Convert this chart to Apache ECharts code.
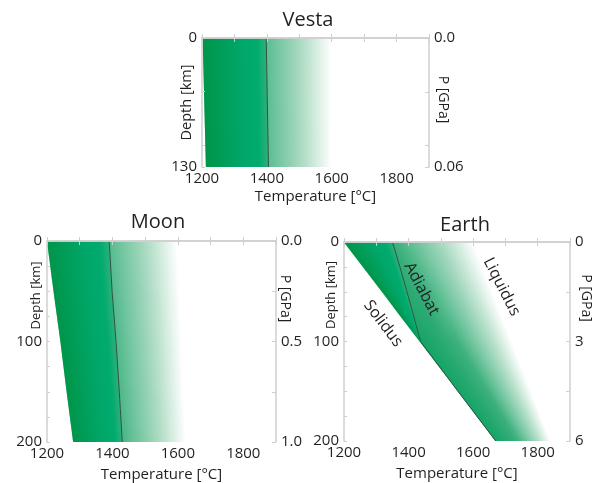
<!DOCTYPE html>
<html><head><meta charset="utf-8">
<script src="https://cdn.jsdelivr.net/npm/echarts@6/dist/echarts.min.js"></script>
<style>html,body{margin:0;padding:0;background:#fff}#c{width:594px;height:483px}</style>
</head><body><div id="c"></div>
<script>
// ---------- data ----------
const tempTicks = [1200, 1400, 1600, 1800];
const tempMinorTicks = [1200, 1300, 1400, 1500, 1600, 1700, 1800, 1900];
const tempMin = 1200, tempMax = 1900;

const vestaDepth    = [0, 130];
const vestaSolidus  = [1202, 1212];
const vestaAdiabat  = [1398, 1405];
const vestaLiquidus = [1600, 1600];
const vestaDepthLabels = [0, 130];
const vestaDepthTicks = [0, 54, 108, 130];
const vestaPressureMax = 0.06;
const vestaPressureLabels = ['0.0', '0.06'];
const vestaPressureLabelValues = [0, 0.06];
const vestaPressureTicks = [0, 0.025, 0.05, 0.06];

const moonDepth    = [0, 50, 100, 150, 200];
const moonSolidus  = [1200, 1220, 1241, 1260, 1280];
const moonAdiabat  = [1390, 1399, 1411, 1421, 1430];
const moonLiquidus = [1597, 1605, 1612, 1618, 1625];
const moonDepthLabels = [0, 100, 200];
const moonDepthTicks = [0, 25, 50, 75, 100, 125, 150, 175, 200];
const moonPressureMax = 1.0;
const moonPressureLabels = ['0.0', '0.5', '1.0'];
const moonPressureLabelValues = [0, 0.5, 1.0];
const moonPressureTicks = [0, 0.25, 0.5, 0.75, 1.0];

const earthDepth    = [0, 25, 50, 75, 100, 150, 200];
const earthSolidus  = [1200, 1259, 1318, 1376, 1435, 1553, 1670];
const earthAdiabat  = [1350, 1373, 1395, 1416, 1437, 1553, 1670];
const earthLiquidus = [1600, 1630, 1660, 1690, 1720, 1780, 1840];
const earthDepthLabels = [0, 100, 200];
const earthDepthTicks = [0, 25, 50, 75, 100, 125, 150, 175, 200];
const earthPressureMax = 6;
const earthPressureLabels = ['0', '3', '6'];
const earthPressureLabelValues = [0, 3, 6];
const earthPressureTicks = [0, 1.5, 3, 4.5, 6];

const earthCurveNames = ['Solidus', 'Adiabat', 'Liquidus'];
const earthCurveLabelTemp  = [1321, 1440, 1688];
const earthCurveLabelDepth = [82, 47, 45];

const panelTitles = ['Vesta', 'Moon', 'Earth'];

// ---------- styling / layout ----------
const FONT = '"Open Sans", sans-serif';
const TXT = '#231f20';
const FRAME = '#cfcfcf';
const grids = [
  {left: 202, top: 38, width: 227, height: 129},
  {left: 47, top: 241, width: 229, height: 202},
  {left: 344, top: 242, width: 229, height: 199}
];
const titlePos = [[308, 20], [158, 222], [465, 225]];

function interp(xs, ys, x) {
  if (x <= xs[0]) return ys[0];
  for (let i = 1; i < xs.length; i++) {
    if (x <= xs[i]) {
      const f = (x - xs[i-1]) / (xs[i] - xs[i-1]);
      return ys[i-1] + f * (ys[i] - ys[i-1]);
    }
  }
  return ys[ys.length-1];
}
function hex2rgb(h){return [parseInt(h.slice(1,3),16),parseInt(h.slice(3,5),16),parseInt(h.slice(5,7),16)];}
function mixColor(stops, t) {
  for (let i = 1; i < stops.length; i++) {
    if (t <= stops[i][0]) {
      const f = (t - stops[i-1][0]) / (stops[i][0] - stops[i-1][0]);
      const a = hex2rgb(stops[i-1][1]), b = hex2rgb(stops[i][1]);
      return 'rgb(' + a.map((v,k)=>Math.round(v + f*(b[k]-v))).join(',') + ')';
    }
  }
  return stops[stops.length-1][1];
}
const leftStops = [[0,'#00954a'],[0.6,'#00a769'],[0.85,'#00ab6e'],[1,'#2eb07b']];
const meltStops = [[0,'#14a466'],[0.375,'#35ad78'],[0.5,'#5cbe93'],[0.75,'#a8d9bf'],[1,'#ffffff']];

function bandSeries(g, depth, sol, adi, liq) {
  return {
    type: 'custom', xAxisIndex: 2*g, yAxisIndex: 2*g, data: [0], silent: true, z: 1,
    renderItem: function (params, api) {
      const children = [];
      const dmax = depth[depth.length-1];
      const yTop = api.coord([tempMin, 0])[1];
      const yBot = api.coord([tempMin, dmax])[1];
      const steps = Math.ceil(yBot - yTop);
      for (let i = 0; i < steps; i++) {
        const da = dmax * i / steps, db = dmax * (i+1) / steps, dm = (da+db)/2;
        const ya = api.coord([tempMin, da])[1];
        const yb = api.coord([tempMin, db])[1] + (i < steps-1 ? 0.6 : 0);
        const X = (arr, d) => api.coord([interp(depth, arr, d), d])[0];
        const sa = X(sol, da), sb = X(sol, db), sm = X(sol, dm);
        const aa = X(adi, da), ab = X(adi, db), am = X(adi, dm);
        const la = X(liq, da), lb = X(liq, db), lm = X(liq, dm);
        if (am - sm > 0.2) {
          children.push({type: 'polygon', shape: {points: [[sa,ya],[aa,ya],[ab,yb],[sb,yb]]},
            style: {fill: {type:'linear', x: sm, y: 0, x2: am, y2: 0, global: true,
              colorStops: leftStops.map(s => ({offset: s[0], color: s[1]}))}}});
        }
        const ta = Math.max(0, (am - sm) / (lm - sm));
        const stops = [0, 0.2, 0.4, 0.6, 0.8, 1].map(o => ({offset: o, color: mixColor(meltStops, ta + o*(1-ta))}));
        children.push({type: 'polygon', shape: {points: [[aa,ya],[la,ya],[lb,yb],[ab,yb]]},
          style: {fill: {type:'linear', x: am, y: 0, x2: lm, y2: 0, global: true, colorStops: stops}}});
      }
      return {type: 'group', children: children};
    }
  };
}
function adiabatSeries(g, depth, adi) {
  return {type: 'line', xAxisIndex: 2*g, yAxisIndex: 2*g, silent: true, z: 3, showSymbol: false,
    data: depth.map((d, i) => [adi[i], d]),
    lineStyle: {color: '#2c5443', width: 1}};
}

const depthNameSize = [14.5, 13, 13];
const depthNameGap = [8, 4, 6];
const depthNameShift = [0, 92, 93];   // px moved up along the axis
const pNameGap = [7, 2, 9];
const pNameShift = [6, 86, 87];
const xNameGap = [22, 25, 25];
const xAxes = [], yAxes = [];
const depthLabelSets = [vestaDepthLabels, moonDepthLabels, earthDepthLabels];
const depthTickSets = [vestaDepthTicks, moonDepthTicks, earthDepthTicks];
const depthMaxes = [130, 200, 200];
const pMax = [vestaPressureMax, moonPressureMax, earthPressureMax];
const pLabels = [vestaPressureLabels, moonPressureLabels, earthPressureLabels];
const pLabelVals = [vestaPressureLabelValues, moonPressureLabelValues, earthPressureLabelValues];
const pTicks = [vestaPressureTicks, moonPressureTicks, earthPressureTicks];

for (let g = 0; g < 3; g++) {
  const tick = (vals, len) => ({show: true, inside: true, length: len, customValues: vals, lineStyle: {color: FRAME, width: 1}});
  const line = {show: true, lineStyle: {color: FRAME, width: 1.5}};
  xAxes.push({type: 'value', gridIndex: g, min: tempMin, max: tempMax, interval: 100, position: 'bottom', z: 10,
    name: 'Temperature [°C]', nameLocation: 'middle', nameGap: xNameGap[g], nameMoveOverlap: false,
    nameTextStyle: {fontFamily: FONT, fontSize: 15, color: TXT},
    axisLine: line, axisTick: tick(tempMinorTicks, 4), splitLine: {show: false},
    axisLabel: {fontFamily: FONT, fontSize: 15, color: TXT, margin: 4, customValues: tempTicks, formatter: v => String(v)}});
  xAxes.push({type: 'value', gridIndex: g, min: tempMin, max: tempMax, interval: 100, position: 'top', z: 10,
    axisLine: line, axisTick: tick(tempMinorTicks, 4), splitLine: {show: false},
    axisLabel: {show: false}});
  yAxes.push({type: 'value', gridIndex: g, min: 0, max: depthMaxes[g], inverse: true, position: 'left', z: 10,
    name: 'Depth [km]', nameLocation: 'middle', nameGap: depthNameGap[g], nameMoveOverlap: false,
    nameTextStyle: {fontFamily: FONT, fontSize: depthNameSize[g], color: TXT, padding: [0, 0, 0, depthNameShift[g]]},
    axisLine: line, splitLine: {show: false}, axisTick: tick(depthTickSets[g], 3),
    axisLabel: {fontFamily: FONT, fontSize: 15, color: TXT, margin: 5, customValues: depthLabelSets[g], formatter: v => String(v)}});
  yAxes.push({type: 'value', gridIndex: g, min: 0, max: pMax[g], inverse: true, position: 'right', z: 10,
    name: 'P [GPa]', nameLocation: 'middle', nameRotate: -90, nameGap: pNameGap[g], nameMoveOverlap: false,
    nameTextStyle: {fontFamily: FONT, fontSize: 14, color: TXT, padding: [0, pNameShift[g], 0, 0]},
    axisLine: line, splitLine: {show: false}, axisTick: tick(pTicks[g], 4),
    axisLabel: {fontFamily: FONT, fontSize: 15, color: TXT, margin: 5, customValues: pLabelVals[g],
      formatter: (v) => pLabels[g][pLabelVals[g].findIndex(x => Math.abs(x - v) < 1e-9)]}});
}

const series = [
  bandSeries(0, vestaDepth, vestaSolidus, vestaAdiabat, vestaLiquidus),
  adiabatSeries(0, vestaDepth, vestaAdiabat),
  bandSeries(1, moonDepth, moonSolidus, moonAdiabat, moonLiquidus),
  adiabatSeries(1, moonDepth, moonAdiabat),
  bandSeries(2, earthDepth, earthSolidus, earthAdiabat, earthLiquidus),
  adiabatSeries(2, earthDepth, earthAdiabat),
  {type: 'custom', xAxisIndex: 4, yAxisIndex: 4, silent: true, z: 5,
    data: earthCurveNames.map((n, i) => [earthCurveLabelTemp[i], earthCurveLabelDepth[i], i]),
    renderItem: function (params, api) {
      const p = api.coord([api.value(0), api.value(1)]);
      const i = api.value(2);
      const rot = [-53, -62, -63][i] * Math.PI / 180;
      return {type: 'text', x: p[0], y: p[1], rotation: rot,
        style: {text: earthCurveNames[i], fontFamily: FONT, fontSize: 16, fill: TXT, align: 'center', verticalAlign: 'middle'}};
    }}
];

const chart = echarts.init(document.getElementById('c'), null, {renderer: 'canvas'});
chart.setOption({
  animation: false,
  grid: grids.map(g => Object.assign({containLabel: false}, g)),
  xAxis: xAxes, yAxis: yAxes, series: series,
  graphic: panelTitles.map((t, i) => ({type: 'text', x: titlePos[i][0], y: titlePos[i][1],
    style: {text: t, fontFamily: FONT, fontSize: 20, fill: TXT, align: 'center', verticalAlign: 'middle'}}))
});
</script></body></html>
